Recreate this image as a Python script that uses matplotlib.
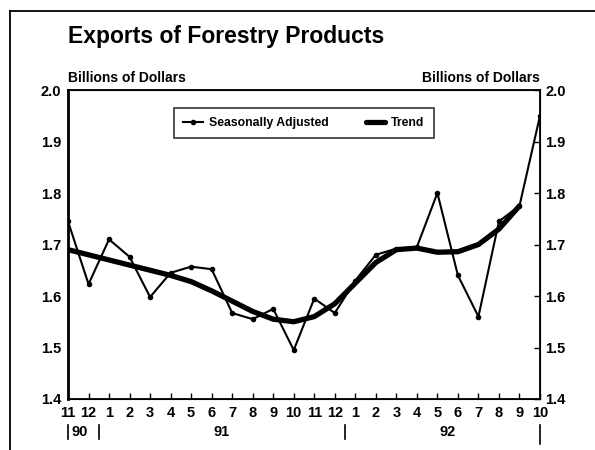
import matplotlib
matplotlib.use('Agg')
import matplotlib.pyplot as plt
import numpy as np
from matplotlib.lines import Line2D

plt.rcParams['font.family'] = ['Liberation Sans', 'DejaVu Sans']
plt.rcParams['font.weight'] = 'bold'

# monthly, Nov 1990 .. Oct 1992
months = ['11', '12', '1', '2', '3', '4', '5', '6', '7', '8', '9', '10',
          '11', '12', '1', '2', '3', '4', '5', '6', '7', '8', '9', '10']
years = ['90', '91', '92']
seasonally_adjusted = [1.745, 1.623, 1.710, 1.676, 1.598, 1.645, 1.657, 1.652,
                       1.567, 1.555, 1.575, 1.495, 1.595, 1.567, 1.630, 1.680,
                       1.692, 1.695, 1.800, 1.640, 1.560, 1.745, 1.775, 1.950]
trend = [1.690, 1.680, 1.670, 1.660, 1.650, 1.640, 1.628, 1.610,
         1.590, 1.570, 1.555, 1.550, 1.560, 1.585, 1.625, 1.665,
         1.690, 1.693, 1.685, 1.686, 1.700, 1.730, 1.775, np.nan]

x = np.arange(len(months))

fig = plt.figure(figsize=(5.95, 4.5), dpi=100)
ax = fig.add_axes([68 / 595, 1 - 399 / 450, 472 / 595, 309 / 450])

ax.plot(x, seasonally_adjusted, color='black', lw=1.5, marker='o', ms=3,
        label='Seasonally Adjusted')
ax.plot(x, trend, color='black', lw=3.8, solid_capstyle='round', label='Trend')

ax.set_xlim(0, len(months) - 1)
ax.set_ylim(1.4, 2.0)
yt = np.arange(1.4, 2.01, 0.1)
ax.set_yticks(yt)
ax.set_yticklabels(['%.1f' % v for v in yt], fontsize=10.5, fontweight='bold')
ax.tick_params(axis='y', length=0, pad=5)
ax.set_xticks(x)
ax.set_xticklabels(months, fontsize=10.5, fontweight='bold')
ax.tick_params(axis='x', direction='in', length=4, width=1, pad=5)
for s in ax.spines.values():
    s.set_linewidth(1.3)
ax.spines['left'].set_linewidth(2)

ax2 = ax.twinx()
ax2.set_ylim(1.4, 2.0)
ax2.set_yticks(yt)
ax2.set_yticklabels(['%.1f' % v for v in yt], fontsize=10.5, fontweight='bold')
ax2.tick_params(axis='y', direction='in', length=4, width=1, pad=4)

# year labels and separators
tr = ax.get_xaxis_transform()
ax.text(0.15, -0.107, years[0], transform=tr, ha='left', va='center', fontsize=10.5, fontweight='bold')
ax.text(7.5, -0.107, years[1], transform=tr, ha='center', va='center', fontsize=10.5, fontweight='bold')
ax.text(18.5, -0.107, years[2], transform=tr, ha='center', va='center', fontsize=10.5, fontweight='bold')
for sx, y0, y1 in [(0.0, -0.085, -0.13), (1.5, -0.085, -0.13),
                   (13.5, -0.085, -0.13), (23.0, -0.085, -0.145)]:
    ax.add_line(Line2D([sx, sx], [y0, y1], transform=tr, color='black', lw=1.2, clip_on=False))

leg = ax.legend(loc='upper center', bbox_to_anchor=(0.5, 0.962), ncol=2,
                frameon=True, fancybox=False, edgecolor='black', handlelength=1.6,
                handletextpad=0.5, columnspacing=3.0, borderpad=0.75,
                prop={'weight': 'bold', 'size': 8.8})
leg.get_frame().set_linewidth(1.2)

fig.text(68 / 595, 1 - 37 / 450, 'Exports of Forestry Products', fontsize=16.5,
         fontweight='bold', ha='left', va='center')
fig.text(68 / 595, 1 - 78 / 450, 'Billions of Dollars', fontsize=10,
         fontweight='bold', ha='left', va='center')
fig.text(540 / 595, 1 - 78 / 450, 'Billions of Dollars', fontsize=10,
         fontweight='bold', ha='right', va='center')

# outer frame
fig.add_artist(Line2D([10 / 595, 10 / 595], [0, 1 - 11 / 450], color='black', lw=1.3))
fig.add_artist(Line2D([10 / 595, 1], [1 - 11 / 450, 1 - 11 / 450], color='black', lw=1.3))

fig.savefig('out.png', dpi=100)
